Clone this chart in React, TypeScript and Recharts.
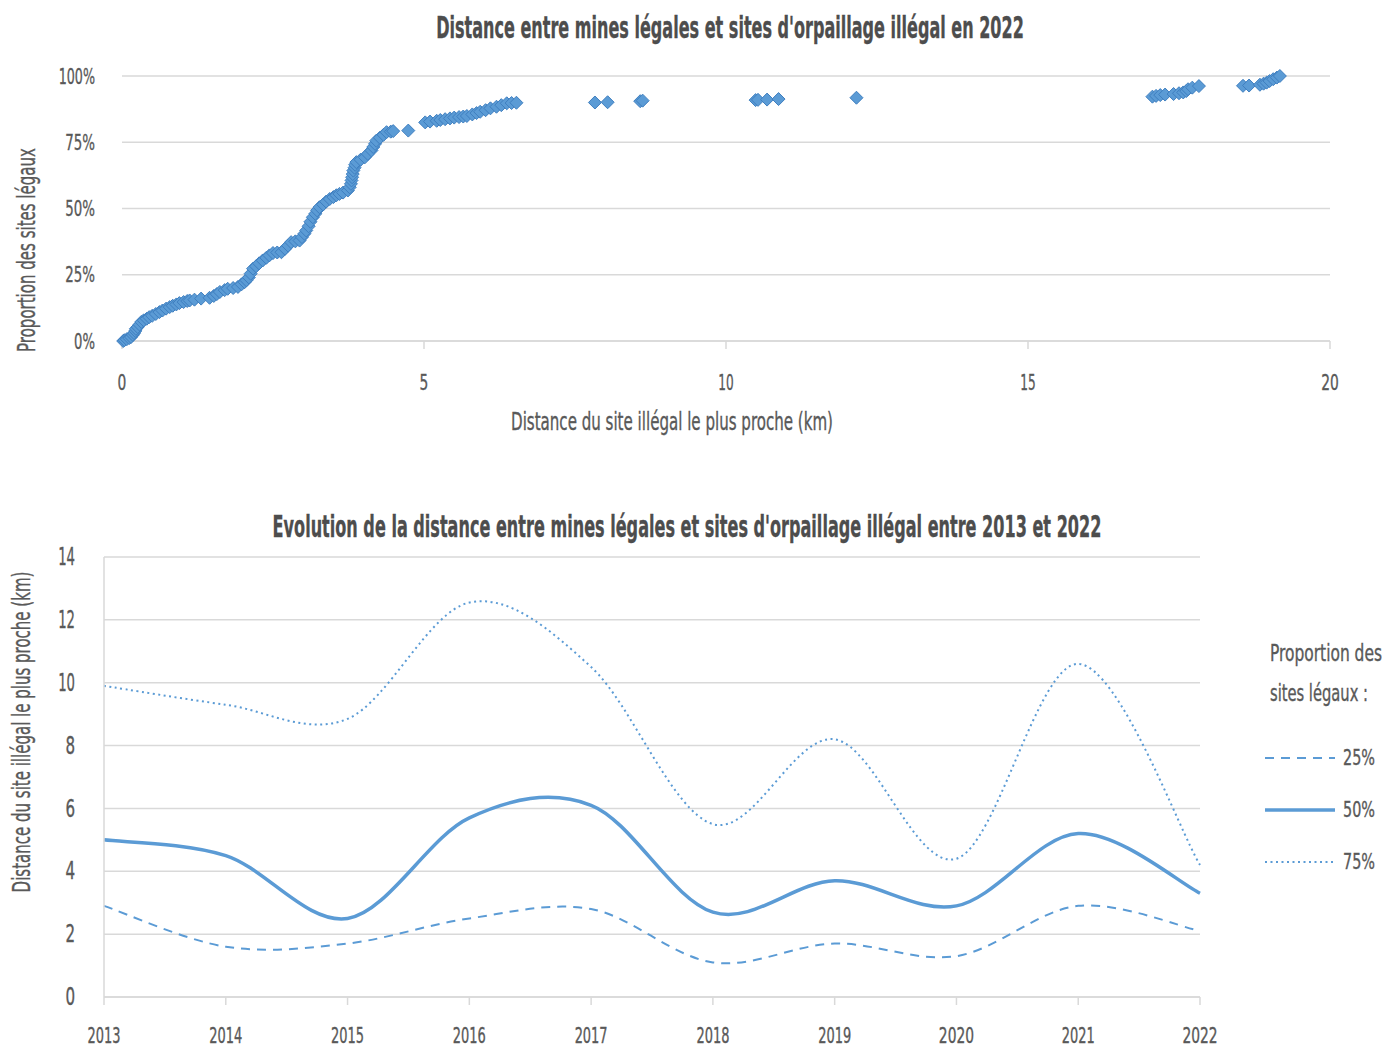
import React from "react";
import {
  ScatterChart,
  Scatter,
  LineChart,
  Line,
  XAxis,
  YAxis,
  CartesianGrid,
  Legend,
} from "recharts";

const FONT = "'DejaVu Sans Condensed', 'DejaVu Sans', 'Roboto', sans-serif";
const TEXT = "#595959";
const GRID = "#d9d9d9";
const BLUE = "#5b9bd5";

const titleTop = "Distance entre mines légales et sites d'orpaillage illégal en 2022";
const titleBottom =
  "Evolution de la distance entre mines légales et sites d'orpaillage illégal entre 2013 et 2022";
const distanceLabel = "Distance du site illégal le plus proche (km)";
const shareLabel = "Proportion des sites légaux";

// [distance to nearest illegal site (km), cumulative share of legal sites (%)]
const distanceCdf: [number, number][] = [
  [0.02, 0], [0.04, 0.3], [0.08, 0.7], [0.12, 1.1], [0.15, 1.5], [0.18, 2.3], [0.2, 3.0],
  [0.22, 3.8], [0.23, 4.6], [0.26, 5.3], [0.29, 6.2], [0.32, 7.2], [0.36, 7.8], [0.41, 8.4],
  [0.45, 9.0], [0.5, 9.5], [0.56, 10.2], [0.62, 10.9], [0.67, 11.5], [0.73, 12.2], [0.79, 12.8],
  [0.84, 13.3], [0.9, 13.8], [0.95, 14.3], [1.02, 14.7], [1.08, 15.1], [1.12, 15.3], [1.2, 15.6],
  [1.31, 16.0], [1.45, 16.3], [1.52, 17.0], [1.57, 17.7], [1.62, 18.5], [1.7, 19.2], [1.75, 19.7],
  [1.84, 20.0], [1.92, 20.4], [1.98, 21.4], [2.03, 22.2], [2.06, 22.9], [2.1, 24.0], [2.13, 25.4],
  [2.17, 27.3], [2.22, 28.2], [2.27, 29.3], [2.33, 30.4], [2.39, 31.4], [2.44, 32.3], [2.5, 33.2],
  [2.57, 33.4], [2.64, 33.5], [2.7, 34.8], [2.75, 36.0], [2.8, 37.3], [2.87, 37.6], [2.94, 37.9],
  [2.98, 39.2], [3.02, 40.5], [3.05, 41.7], [3.09, 43.3], [3.12, 45.0], [3.16, 46.7], [3.2, 48.0],
  [3.23, 49.3], [3.27, 50.5], [3.33, 51.5], [3.38, 52.6], [3.44, 53.6], [3.5, 54.3], [3.55, 55.0],
  [3.6, 55.5], [3.66, 56.0], [3.74, 56.8], [3.77, 58.0], [3.79, 59.3], [3.8, 60.6], [3.81, 61.8],
  [3.82, 63.0], [3.83, 64.3], [3.85, 65.4], [3.86, 66.5], [3.88, 67.5], [3.95, 68.4], [4.02, 69.3],
  [4.07, 70.6], [4.13, 71.9], [4.16, 73.2], [4.19, 74.4], [4.21, 75.6], [4.27, 76.7], [4.33, 77.8],
  [4.38, 78.8], [4.45, 79.0], [4.49, 79.2], [4.74, 79.4], [5.02, 82.5], [5.1, 82.8], [5.21, 83.1],
  [5.27, 83.4], [5.35, 83.7], [5.43, 84.0], [5.5, 84.3], [5.58, 84.5], [5.65, 84.7], [5.71, 84.9],
  [5.8, 85.5], [5.87, 86.0], [5.93, 86.5], [6.02, 87.1], [6.1, 87.8], [6.2, 88.4], [6.28, 89.0],
  [6.37, 89.7], [6.45, 89.8], [6.53, 89.9], [7.83, 90.0], [8.04, 90.1], [8.58, 90.5], [8.62, 90.7],
  [10.49, 90.9], [10.53, 91.0], [10.68, 91.1], [10.87, 91.3], [12.16, 91.8], [17.06, 92.2],
  [17.12, 92.5], [17.19, 92.8], [17.27, 93.0], [17.41, 93.2], [17.5, 93.5], [17.57, 93.8],
  [17.62, 94.3], [17.65, 95.0], [17.72, 95.6], [17.83, 96.2], [18.56, 96.3], [18.66, 96.4],
  [18.84, 96.7], [18.9, 97.1], [18.95, 97.5], [19.0, 98.1], [19.06, 98.8], [19.12, 99.4],
  [19.17, 100],
];
const distanceTicks = [0, 5, 10, 15, 20];
const shareTicks = [0, 25, 50, 75, 100];

const years = [2013, 2014, 2015, 2016, 2017, 2018, 2019, 2020, 2021, 2022];
const p25 = [2.9, 1.6, 1.7, 2.5, 2.8, 1.1, 1.7, 1.3, 2.9, 2.1];
const p50 = [5.0, 4.5, 2.5, 5.7, 6.1, 2.7, 3.7, 2.9, 5.2, 3.3];
const p75 = [9.9, 9.3, 8.85, 12.55, 10.5, 5.5, 8.2, 4.4, 10.6, 4.2];
const kmTicks = [0, 2, 4, 6, 8, 10, 12, 14];

const scatterData = distanceCdf.map(([km, share]) => ({ km, share }));
const evolutionData = years.map((year, i) => ({
  year,
  p25: p25[i],
  p50: p50[i],
  p75: p75[i],
}));

const series = [
  { key: "p25", label: "25%", width: 2, dash: "9 7" },
  { key: "p50", label: "50%", width: 3.5, dash: undefined },
  { key: "p75", label: "75%", width: 2, dash: "2 3.5" },
];

// Excel-style smoothed line: Catmull-Rom segments as cubic Beziers
const excelSmooth = (context: any) => {
  let pts: number[][] = [];
  return {
    areaStart() {},
    areaEnd() {},
    lineStart() {
      pts = [];
    },
    point(x: number, y: number) {
      pts.push([+x, +y]);
    },
    lineEnd() {
      if (!pts.length) return;
      context.moveTo(pts[0][0], pts[0][1]);
      for (let i = 0; i < pts.length - 1; i++) {
        const p0 = pts[Math.max(i - 1, 0)];
        const p1 = pts[i];
        const p2 = pts[i + 1];
        const p3 = pts[Math.min(i + 2, pts.length - 1)];
        context.bezierCurveTo(
          p1[0] + (p2[0] - p0[0]) / 6,
          p1[1] + (p2[1] - p0[1]) / 6,
          p2[0] - (p3[0] - p1[0]) / 6,
          p2[1] - (p3[1] - p1[1]) / 6,
          p2[0],
          p2[1]
        );
      }
    },
  };
};

// the reference uses a very narrow face: measure and squeeze horizontally
let measureCtx: CanvasRenderingContext2D | null = null;
const measure = (s: string, size: number, weight: string) => {
  if (!measureCtx) measureCtx = document.createElement("canvas").getContext("2d");
  if (!measureCtx) return s.length * size * 0.5;
  measureCtx.font = `${weight} ${size}px ${FONT}`;
  return measureCtx.measureText(s).width;
};

const glyphW = (s: string, size: number) =>
  [...s].reduce((w, c) => w + (c === "%" ? 0.55 : c === "1" ? 0.3 : 0.4) * size, 0);

const Txt = ({ x, y, size, w, anchor = "middle", rotate = false, weight = "normal", fill = TEXT, children }: any) => {
  const s = String(children);
  const sx = w ? Math.min(1, w / measure(s, size, weight)) : 1;
  return (
    <text
      transform={`translate(${x} ${y})${rotate ? " rotate(-90)" : ""} scale(${sx} 1)`}
      fontSize={size}
      fontFamily={FONT}
      fontWeight={weight}
      fill={fill}
      stroke={fill}
      strokeWidth={0.35}
      textAnchor={anchor}
      dominantBaseline="central"
    >
      {s}
    </text>
  );
};

const Diamond = (props: any) => {
  const { cx, cy } = props;
  const r = 6.5;
  return (
    <path
      d={`M${cx},${cy - r}L${cx + r},${cy}L${cx},${cy + r}L${cx - r},${cy}Z`}
      fill={BLUE}
      stroke="#3f7fc0"
      strokeWidth={1}
    />
  );
};

const XTick = ({ x, y, payload, size, offset }: any) => {
  const s = String(payload.value);
  return <Txt x={x} y={y + offset} size={size} w={glyphW(s, size)}>{s}</Txt>;
};

const YTick = ({ x, y, payload, size, offset, suffix = "" }: any) => {
  const s = `${payload.value}${suffix}`;
  return (
    <Txt x={x - offset} y={y} size={size} w={glyphW(s, size)} anchor="end">
      {s}
    </Txt>
  );
};

const SeriesLegend = () => (
  <svg width={124} height={260}>
    <Txt x={8} y={20} size={23} w={112} anchor="start">Proportion des</Txt>
    <Txt x={8} y={60} size={23} w={98} anchor="start">sites légaux :</Txt>
    {series.map((s, i) => (
      <g key={s.key}>
        <line
          x1={3}
          x2={73}
          y1={125 + i * 52}
          y2={125 + i * 52}
          stroke={BLUE}
          strokeWidth={s.width}
          strokeDasharray={s.dash}
        />
        <Txt x={81} y={125 + i * 52} size={22} w={32} anchor="start">{s.label}</Txt>
      </g>
    ))}
  </svg>
);

export default function App() {
  return (
    <div style={{ position: "absolute", left: 0, top: 0, width: 1386, height: 1050, background: "#fff", overflow: "hidden" }}>
      <div style={{ position: "absolute", left: 0, top: 0 }}>
        <ScatterChart width={1386} height={450} margin={{ top: 76, right: 56, bottom: 0, left: 72 }}>
          <CartesianGrid horizontal vertical={false} stroke={GRID} strokeWidth={1.5} />
          <XAxis
            type="number"
            dataKey="km"
            domain={[0, 20]}
            ticks={distanceTicks}
            height={109}
            axisLine={{ stroke: GRID, strokeWidth: 1.5 }}
            tickLine={{ stroke: GRID, strokeWidth: 1.5 }}
            tickSize={8}
            tickMargin={0}
            tick={<XTick size={22} offset={33} />}
          />
          <YAxis
            type="number"
            dataKey="share"
            domain={[0, 100]}
            ticks={shareTicks}
            width={50}
            axisLine={false}
            tickLine={false}
            tickSize={0}
            tickMargin={0}
            tick={<YTick size={22} offset={27} suffix="%" />}
          />
          <Scatter data={scatterData} shape={<Diamond />} isAnimationActive={false} />
        </ScatterChart>
      </div>

      <div style={{ position: "absolute", left: 0, top: 470 }}>
        <LineChart width={1386} height={580} data={evolutionData} margin={{ top: 87, right: 186, bottom: 0, left: 54 }}>
          <CartesianGrid horizontal vertical={false} stroke={GRID} strokeWidth={1.5} />
          <XAxis
            type="number"
            dataKey="year"
            domain={[2013, 2022]}
            ticks={years}
            height={53}
            axisLine={{ stroke: GRID, strokeWidth: 1.5 }}
            tickLine={{ stroke: GRID, strokeWidth: 1.5 }}
            tickSize={8}
            tickMargin={0}
            tick={<XTick size={22} offset={30} />}
          />
          <YAxis
            type="number"
            domain={[0, 14]}
            ticks={kmTicks}
            width={50}
            axisLine={{ stroke: GRID, strokeWidth: 1.5 }}
            tickLine={false}
            tickSize={0}
            tickMargin={0}
            tick={<YTick size={24} offset={29} />}
          />
          {series.map((s) => (
            <Line
              key={s.key}
              dataKey={s.key}
              type={excelSmooth as any}
              stroke={BLUE}
              strokeWidth={s.width}
              strokeDasharray={s.dash}
              dot={false}
              activeDot={false}
              isAnimationActive={false}
            />
          ))}
          <Legend
            layout="horizontal"
            align="center"
            verticalAlign="middle"
            content={() => <SeriesLegend />}
            wrapperStyle={{ left: 1262, top: 163, width: 124, height: 260 }}
          />
        </LineChart>
      </div>

      <svg width={1386} height={1050} style={{ position: "absolute", left: 0, top: 0, pointerEvents: "none" }}>
        <Txt x={730} y={28} size={30} w={588} weight="bold" fill="#4d4d4d">{titleTop}</Txt>
        <Txt x={672} y={422} size={24} w={322}>{distanceLabel}</Txt>
        <Txt x={27} y={250} size={24} w={204} rotate>{shareLabel}</Txt>
        <Txt x={687} y={527} size={30} w={829} weight="bold" fill="#4d4d4d">{titleBottom}</Txt>
        <Txt x={22} y={732} size={24} w={321} rotate>{distanceLabel}</Txt>
      </svg>
    </div>
  );
}
